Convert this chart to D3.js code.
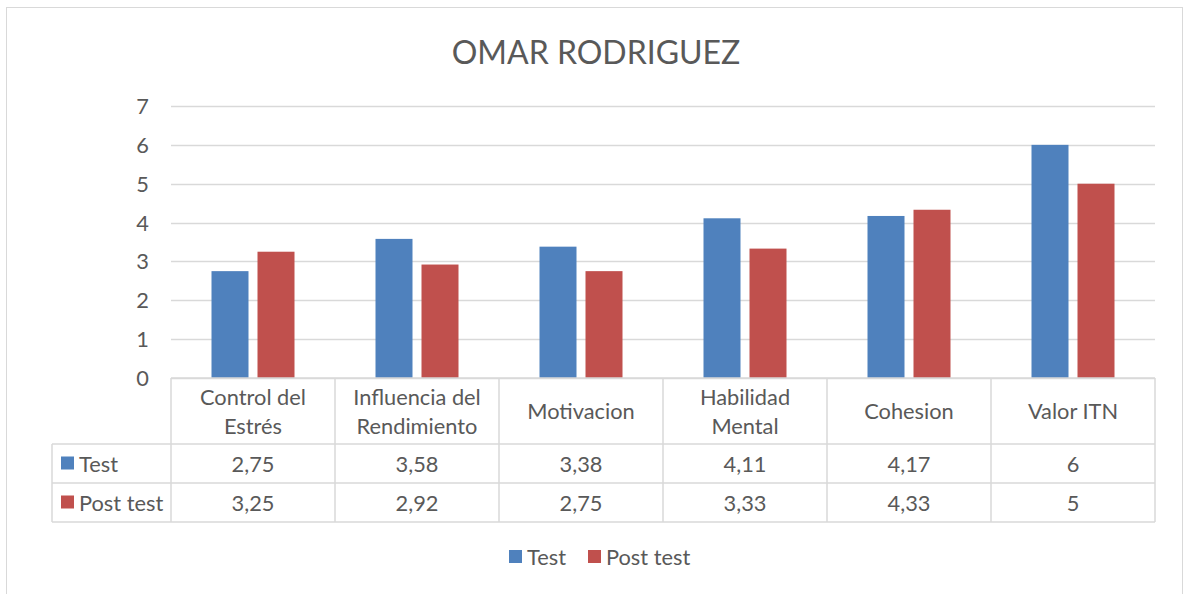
<!DOCTYPE html>
<html>
<head>
<meta charset="utf-8">
<script src="https://cdn.jsdelivr.net/npm/d3@7"></script>
<style>
  body { margin: 0; background: #fff; }
  text { font-family: Lato, "Open Sans", sans-serif; fill: #595959; }
</style>
</head>
<body>
<div id="chart"></div>
<script>
const categories = [["Control del", "Estrés"], ["Influencia del", "Rendimiento"], ["Motivacion"], ["Habilidad", "Mental"], ["Cohesion"], ["Valor ITN"]];
const testValues = [2.75, 3.58, 3.38, 4.11, 4.17, 6];
const postValues = [3.25, 2.92, 2.75, 3.33, 4.33, 5];
const seriesNames = ["Test", "Post test"];
const colors = ["#4F81BD", "#C0504D"];
const yTicks = [0, 1, 2, 3, 4, 5, 6, 7];

const w = 1184, h = 594;
const plotL = 171, plotR = 1155, plotT = 106, plotB = 378;
const fs = "21.8px";

const svg = d3.select("#chart").append("svg").attr("width", w).attr("height", h);

// outer border
svg.append("rect").attr("x", 6.5).attr("y", 7.5).attr("width", 1176).attr("height", 600)
  .attr("fill", "none").attr("stroke", "#D9D9D9");

svg.append("text").attr("x", 596).attr("y", 64).attr("text-anchor", "middle")
  .style("font-size", "32px").text("OMAR RODRIGUEZ");

const x = d3.scaleBand().domain(d3.range(categories.length)).range([plotL, plotR]);
const y = d3.scaleLinear().domain([0, 7]).range([plotB, plotT]);

// gridlines
svg.append("g").selectAll("line").data(yTicks).enter().append("line")
  .attr("x1", plotL).attr("x2", plotR)
  .attr("y1", d => Math.round(y(d)) + 0.5).attr("y2", d => Math.round(y(d)) + 0.5)
  .attr("stroke", "#D9D9D9").attr("stroke-width", 1.5);

// y labels
svg.append("g").selectAll("text").data(yTicks).enter().append("text")
  .attr("x", 149).attr("y", d => y(d) + 8).attr("text-anchor", "end")
  .style("font-size", fs).text(d => d);

// bars
const barW = 37;
const series = [testValues, postValues];
series.forEach((vals, s) => {
  svg.append("g").selectAll("rect").data(vals).enter().append("rect")
    .attr("x", (d, i) => x(i) + x.bandwidth() / 2 + (s === 0 ? -23 : 23) - barW / 2)
    .attr("y", d => y(d))
    .attr("width", barW)
    .attr("height", d => plotB - y(d))
    .attr("fill", colors[s]);
});

// data table
const rowTop = [378, 444, 483, 522];
const tbl = svg.append("g").attr("stroke", "#D9D9D9").attr("stroke-width", 1.5);
tbl.append("line").attr("x1", plotL).attr("x2", plotR).attr("y1", rowTop[0]).attr("y2", rowTop[0]);
[1, 2, 3].forEach(r => {
  tbl.append("line").attr("x1", 52).attr("x2", plotR).attr("y1", rowTop[r]).attr("y2", rowTop[r]);
});
d3.range(categories.length + 1).forEach(i => {
  const xx = i < categories.length ? x(i) : plotR;
  tbl.append("line").attr("x1", xx).attr("x2", xx).attr("y1", rowTop[0]).attr("y2", rowTop[3]);
});
tbl.append("line").attr("x1", 52).attr("x2", 52).attr("y1", rowTop[1]).attr("y2", rowTop[3]);

// category labels
categories.forEach((c, i) => {
  const cx = x(i) + x.bandwidth() / 2;
  const mid = (rowTop[0] + rowTop[1]) / 2;
  c.forEach((line, k) => {
    svg.append("text").attr("x", cx)
      .attr("y", mid + 8 + (k - (c.length - 1) / 2) * 29)
      .attr("text-anchor", "middle").style("font-size", fs).text(line);
  });
});

// value rows
series.forEach((vals, s) => {
  const mid = (rowTop[s + 1] + rowTop[s + 2]) / 2;
  svg.append("rect").attr("x", 61).attr("y", mid - 7).attr("width", 13).attr("height", 13).attr("fill", colors[s]);
  svg.append("text").attr("x", 79).attr("y", mid + 8).style("font-size", fs).text(seriesNames[s]);
  vals.forEach((v, i) => {
    svg.append("text").attr("x", x(i) + x.bandwidth() / 2).attr("y", mid + 8)
      .attr("text-anchor", "middle").style("font-size", fs)
      .text(String(v).replace(".", ","));
  });
});

// legend
const legX = [509, 588];
seriesNames.forEach((n, s) => {
  svg.append("rect").attr("x", legX[s]).attr("y", 550).attr("width", 13).attr("height", 13).attr("fill", colors[s]);
  svg.append("text").attr("x", legX[s] + 18).attr("y", 565).style("font-size", fs).text(n);
});
</script>
</body>
</html>
